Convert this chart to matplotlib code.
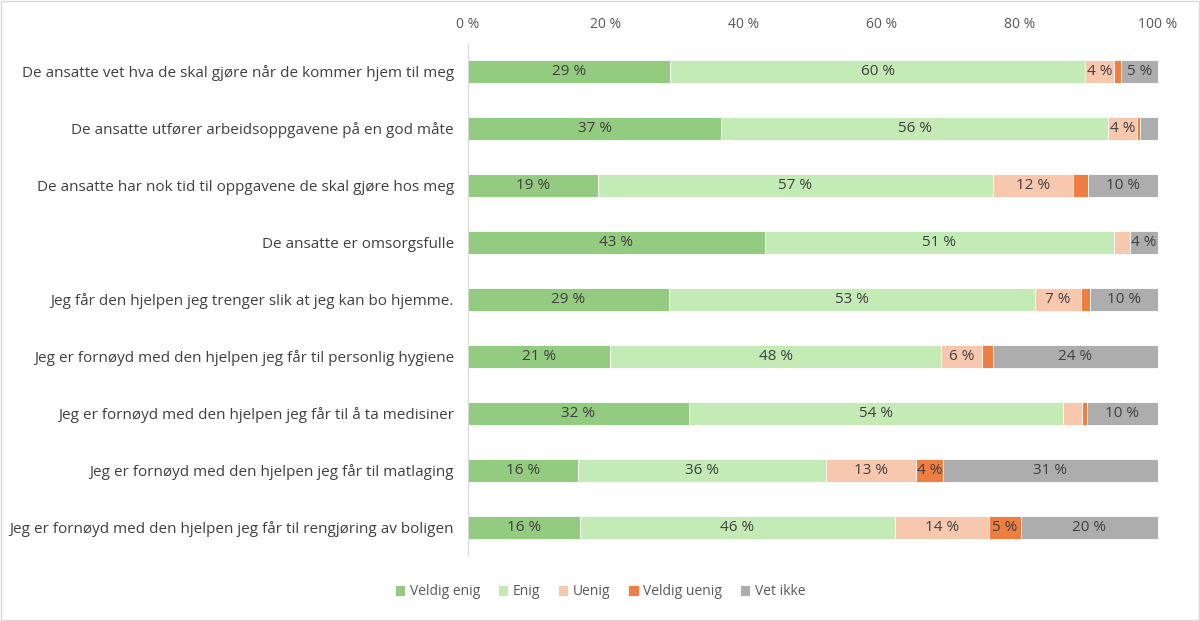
import matplotlib.pyplot as plt
import numpy as np

plt.rcParams['font.family'] = ['Open Sans', 'DejaVu Sans']

questions = [
    'De ansatte vet hva de skal gjøre når de kommer hjem til meg',
    'De ansatte utfører arbeidsoppgavene på en god måte',
    'De ansatte har nok tid til oppgavene de skal gjøre hos meg',
    'De ansatte er omsorgsfulle',
    'Jeg får den hjelpen jeg trenger slik at jeg kan bo hjemme.',
    'Jeg er fornøyd med den hjelpen jeg får til personlig hygiene',
    'Jeg er fornøyd med den hjelpen jeg får til å ta medisiner',
    'Jeg er fornøyd med den hjelpen jeg får til matlaging',
    'Jeg er fornøyd med den hjelpen jeg får til rengjøring av boligen',
]

categories = ['Veldig enig', 'Enig', 'Uenig', 'Veldig uenig', 'Vet ikke']
colors = ['#93CB80', '#C4EAB5', '#F8C8AE', '#EE7E42', '#ADADAD']

veldig_enig = [29.3, 36.7, 18.8, 43.0, 29.1, 20.6, 32.0, 15.9, 16.2]
enig = [60.1, 56.1, 57.3, 50.6, 53.1, 48.0, 54.2, 36.0, 45.7]
uenig = [4.2, 4.2, 11.6, 2.3, 6.6, 5.9, 2.8, 13.0, 13.6]
veldig_uenig = [1.0, 0.4, 2.2, 0.0, 1.3, 1.6, 0.7, 3.9, 4.6]
vet_ikke = [5.4, 2.6, 10.1, 4.1, 9.9, 23.9, 10.3, 31.2, 19.9]

series = [veldig_enig, enig, uenig, veldig_uenig, vet_ikke]

fig = plt.figure(figsize=(12, 6.21), dpi=100)
ax = fig.add_axes([0.39, 0.105, 0.575, 0.826])

y = np.arange(len(questions))
left = np.zeros(len(questions))
for name, vals, col in zip(categories, series, colors):
    vals = np.array(vals)
    ax.barh(y, vals, left=left, height=0.4, color=col, label=name,
            edgecolor='white', linewidth=0.6)
    for yi, l, v in zip(y, left, vals):
        if v >= 3.5:
            ax.text(l + v / 2, yi, f'{int(v + 0.5)} %', ha='center', va='center',
                    fontsize=11, color='#404040')
    left += vals

ax.set_xlim(0, 100)
ax.set_ylim(len(questions) - 0.5, -0.5)
ax.set_yticks(y)
ax.set_yticklabels(questions, fontsize=11, color='#404040')
ax.set_xticks(np.arange(0, 101, 20))
ax.set_xticklabels([f'{t} %' for t in range(0, 101, 20)], fontsize=10, color='#595959')
ax.xaxis.tick_top()
ax.tick_params(axis='both', length=0)
ax.tick_params(axis='x', pad=8)
ax.tick_params(axis='y', pad=10)
for s in ['top', 'right', 'bottom']:
    ax.spines[s].set_visible(False)
ax.spines['left'].set_color('#D9D9D9')

fig.legend(loc='center', bbox_to_anchor=(0.5, 0.047), ncol=5, frameon=False,
           fontsize=10, handlelength=0.75, handleheight=0.75, columnspacing=1.3,
           handletextpad=0.3, labelcolor='#595959')

fig.patches.append(plt.Rectangle((0.001, 0.001), 0.998, 0.998, transform=fig.transFigure,
                                 fill=False, edgecolor='#D9D9D9', linewidth=1))

fig.savefig('out.png', dpi=100)
